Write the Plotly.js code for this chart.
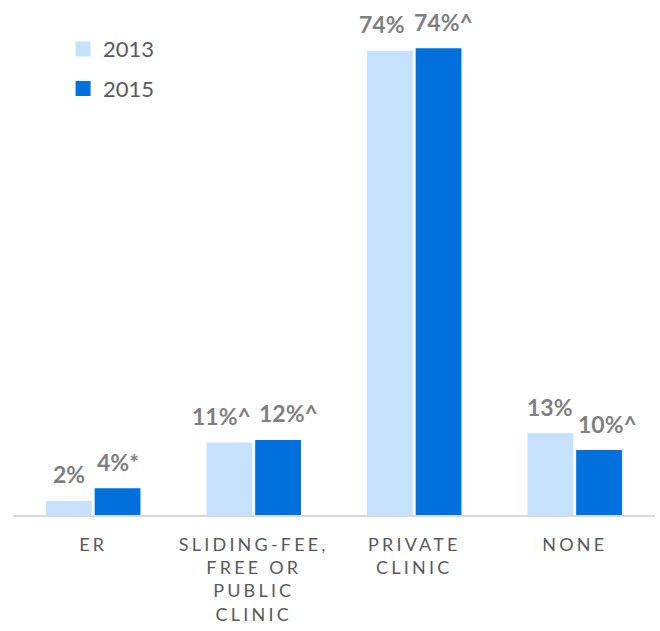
<!DOCTYPE html>
<html><head><meta charset="utf-8">
<script src="https://cdn.plot.ly/plotly-3.0.1.min.js"></script>
<style>
html,body{margin:0;padding:0;background:#fff;}
#chart{width:660px;height:631px;}
.xtick text{letter-spacing:3.2px;}
</style></head><body><div id="chart"></div>
<script>
// ---- data ----
const categories = ["ER", "SLIDING-FEE,<br>FREE OR<br>PUBLIC<br>CLINIC", "PRIVATE<br>CLINIC", "NONE"];
const seriesNames = ["2013", "2015"];
const values2013 = [2.0, 11.3, 73.6, 12.8];
const values2015 = [4.0, 11.7, 74.0, 10.1];
const labels2013 = ["2%", "11%^", "74%", "13%"];
const labels2015 = ["4%*", "12%^", "74%^", "10%^"];

// ---- style ----
const colors = ["#c6e1fb", "#0070dd"];
const BARGAP = 0.394;
const BARGROUPGAP = 0.12;
const labelFont = {family: "Lato, 'Open Sans', sans-serif", size: 23, color: "#7f7f7f", weight: 700};
const nudge2013 = [0, -8, -8, 0];   // horizontal label nudges (px) to avoid overlaps
const nudge2015 = [0, 10, 5, 8];

const traces = [
  {type: "bar", name: seriesNames[0], x: categories, y: values2013,
   marker: {color: colors[0], line: {color: colors[0], width: 3}}, legendgroup: "a", hoverinfo: "skip"},
  {type: "bar", name: seriesNames[1], x: categories, y: values2015,
   marker: {color: colors[1], line: {color: colors[1], width: 3}}, legendgroup: "b", hoverinfo: "skip"}
];

const off = (1 - BARGAP) / 4;
const annotations = [];
categories.forEach((c, i) => {
  annotations.push({x: i - off, y: values2013[i], xref: "x", yref: "y", text: labels2013[i],
    showarrow: false, yanchor: "bottom", xanchor: "center", yshift: 12, xshift: nudge2013[i], font: labelFont});
  annotations.push({x: i + off, y: values2015[i], xref: "x", yref: "y", text: labels2015[i],
    showarrow: false, yanchor: "bottom", xanchor: "center", yshift: 12, xshift: nudge2015[i], font: labelFont});
});

const layout = {
  width: 660, height: 631,
  margin: {l: 13, r: 5, t: 12, b: 116, pad: 0, autoexpand: false},
  paper_bgcolor: "#fff", plot_bgcolor: "#fff",
  barmode: "group", bargap: BARGAP, bargroupgap: BARGROUPGAP,
  showlegend: true,
  legend: {x: 0.078, y: 0.968, xanchor: "left", yanchor: "top",
    font: {family: "Lato, 'Open Sans', sans-serif", size: 22, color: "#595959"},
    bgcolor: "rgba(0,0,0,0)", tracegroupgap: 8, traceorder: "grouped", itemclick: false},
  xaxis: {type: "category", showline: true, linecolor: "#d9d9d9", linewidth: 2, showgrid: false,
    zeroline: false, ticks: "", tickangle: 0, ticklabelstandoff: 12, automargin: false,
    tickfont: {family: "Lato, 'Open Sans', sans-serif", size: 18, color: "#595959"}},
  yaxis: {range: [0, 80], visible: false, showgrid: false, zeroline: false, fixedrange: true, automargin: false},
  annotations: annotations
};

Plotly.newPlot("chart", traces, layout, {displayModeBar: false, staticPlot: true});
</script></body></html>
